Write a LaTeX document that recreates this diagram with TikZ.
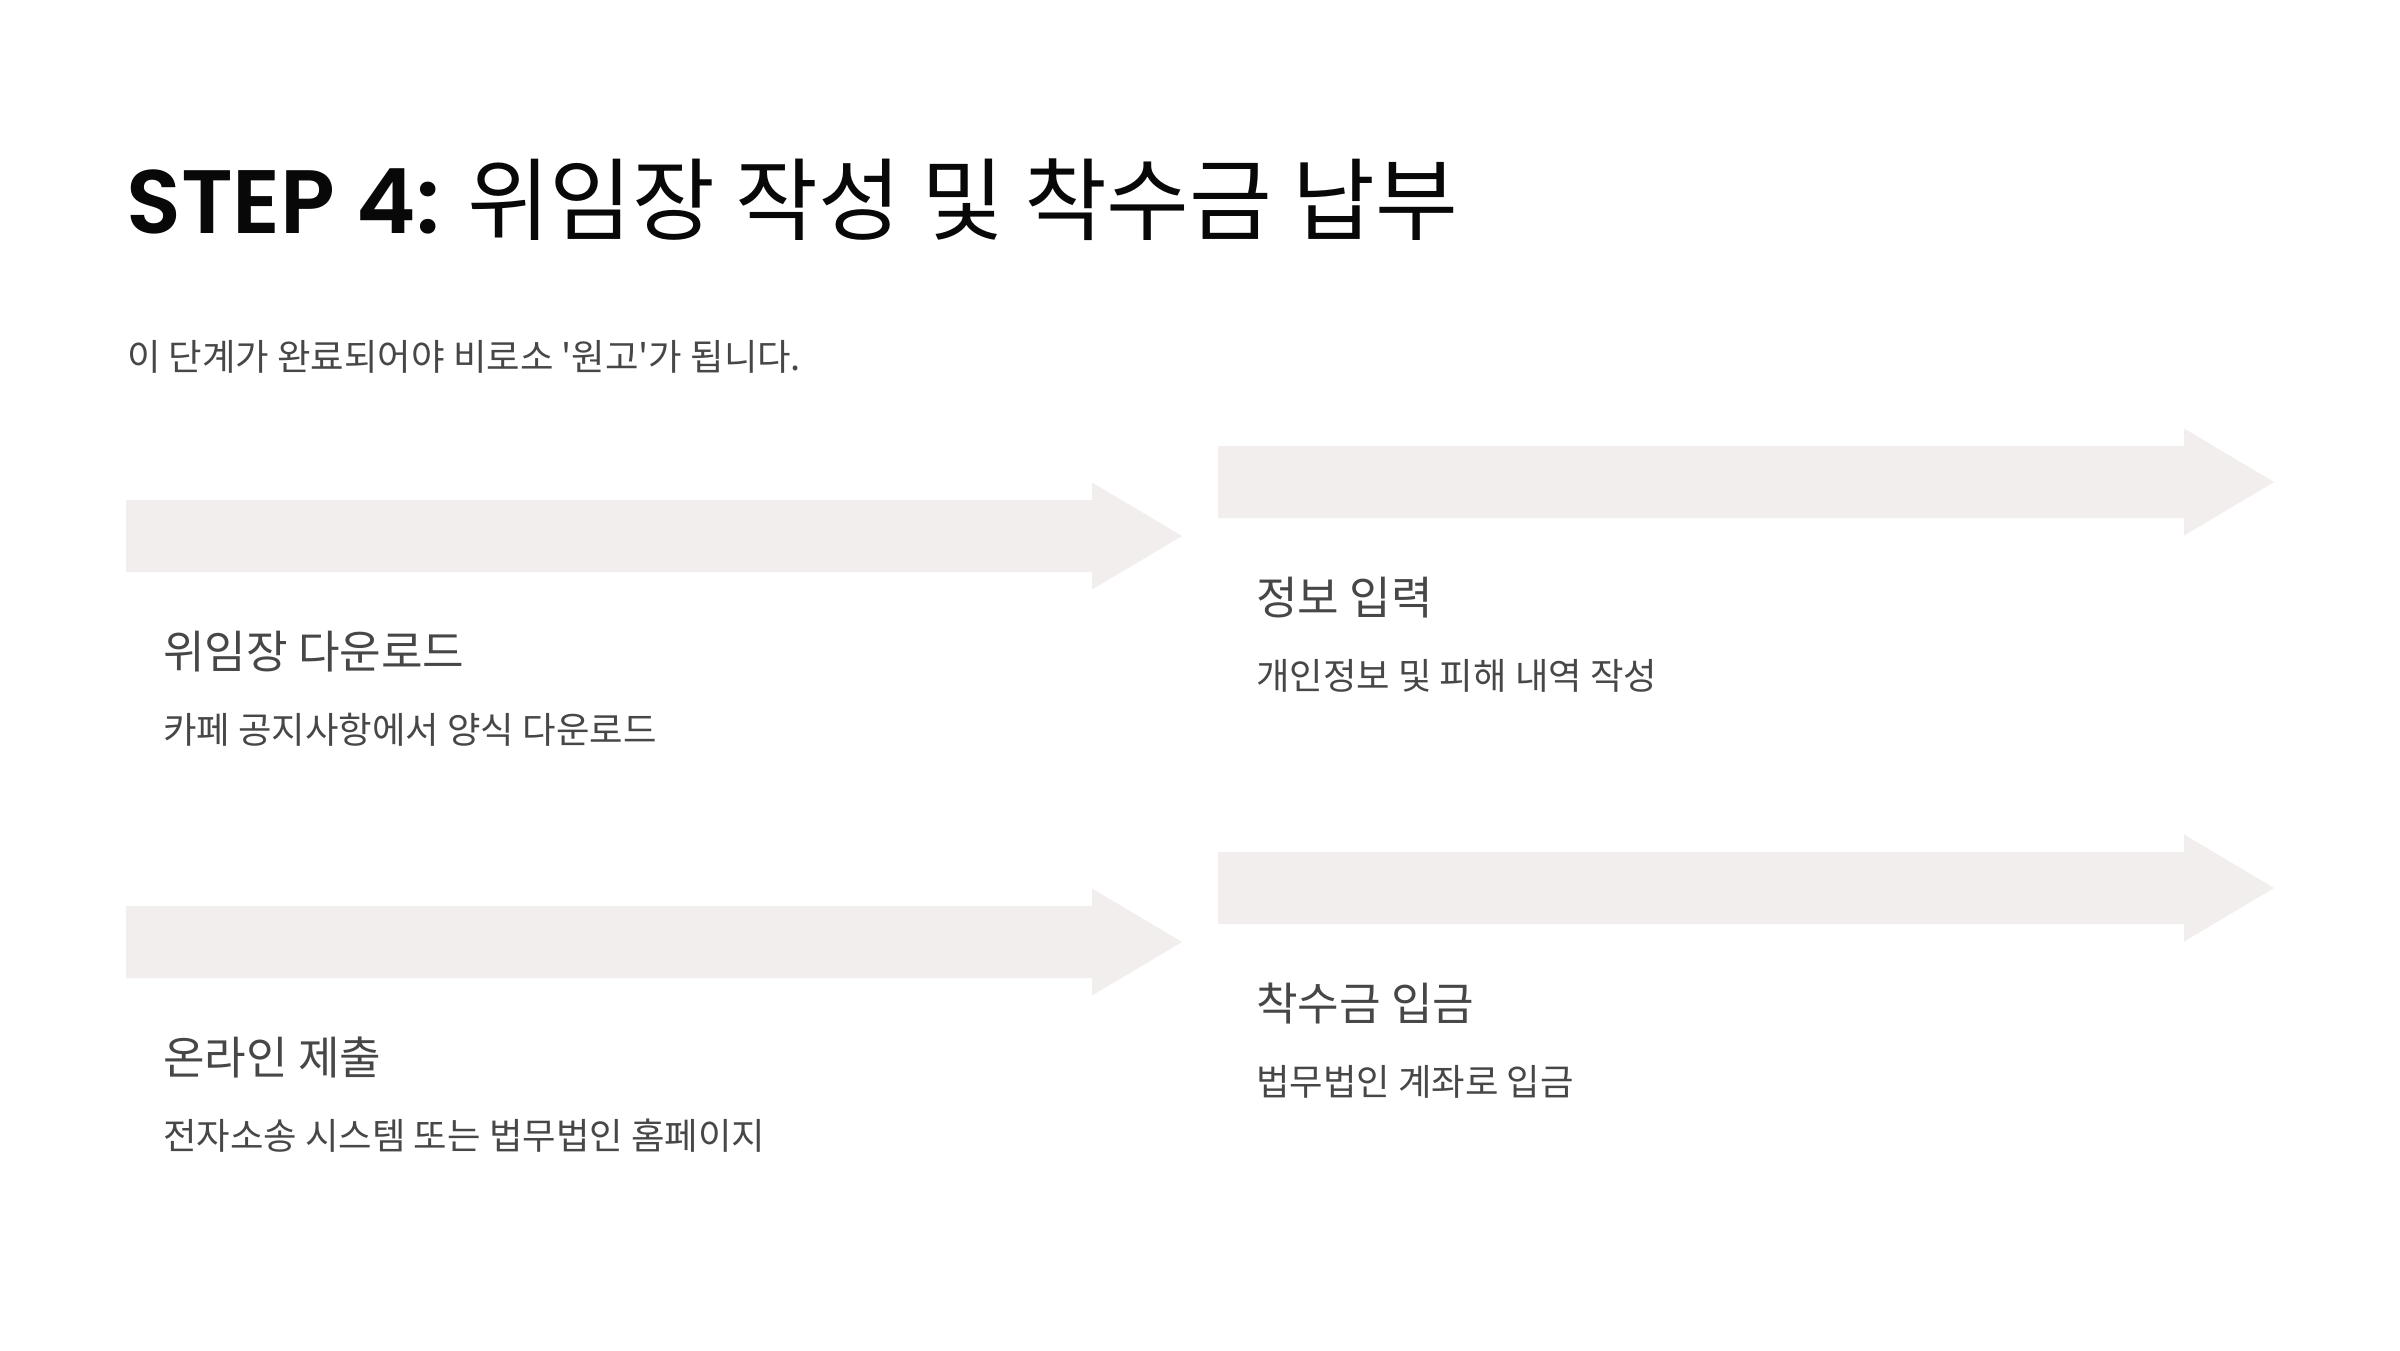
\documentclass[tikz,border=0pt]{standalone}
\usepackage{fontspec}
\setmainfont{Noto Sans CJK KR}[Ligatures=TeXOff]
\newfontfamily\latinfont{Poppins}[UprightFont=* SemiBold]
\definecolor{arrowfill}{HTML}{F1EEED}
\definecolor{txt}{HTML}{474747}
\definecolor{titlec}{HTML}{080808}
\tikzset{
  flowarrow/.pic={\fill[arrowfill] (0,0) -- (966,0) -- (966,-17.5) -- (1056,36) -- (966,89.5) -- (966,72) -- (0,72) -- cycle;},
  headtext/.style={anchor=base west, inner sep=0pt, text=txt, font=\fontsize{45.2}{50}\selectfont},
  desctext/.style={anchor=base west, inner sep=0pt, text=txt, font=\fontsize{36.4}{40}\selectfont},
}
\begin{document}
\begin{tikzpicture}[x=1pt,y=-1pt]
\useasboundingbox[fill=white] (0,0) rectangle (2400,1350);
% title and subtitle
\node[anchor=base west, inner sep=0pt, text=titlec, font=\fontsize{90}{100}\selectfont] (title) at (126,233) {{\latinfont STEP 4:} 위임장 작성 및 착수금 납부};
\node[anchor=base west, inner sep=0pt, text=txt, font=\fontsize{36.4}{40}\selectfont] (subtitle) at (127,370) {이 단계가 완료되어야 비로소 '원고'가 됩니다.};
% arrows
\pic (a1) at (126,500) {flowarrow};
\pic (a2) at (1218,446) {flowarrow};
\pic (a3) at (126,906) {flowarrow};
\pic (a4) at (1218,852) {flowarrow};
% texts
\node[headtext] (h1) at (163,668) {위임장 다운로드};
\node[desctext] (d1) at (163,743) {카페 공지사항에서 양식 다운로드};
\node[headtext] (h2) at (1256,614) {정보 입력};
\node[desctext] (d2) at (1256,689) {개인정보 및 피해 내역 작성};
\node[headtext] (h3) at (163,1074) {온라인 제출};
\node[desctext] (d3) at (163,1149) {전자소송 시스템 또는 법무법인 홈페이지};
\node[headtext] (h4) at (1256,1020) {착수금 입금};
\node[desctext] (d4) at (1256,1095) {법무법인 계좌로 입금};
\end{tikzpicture}
\end{document}
